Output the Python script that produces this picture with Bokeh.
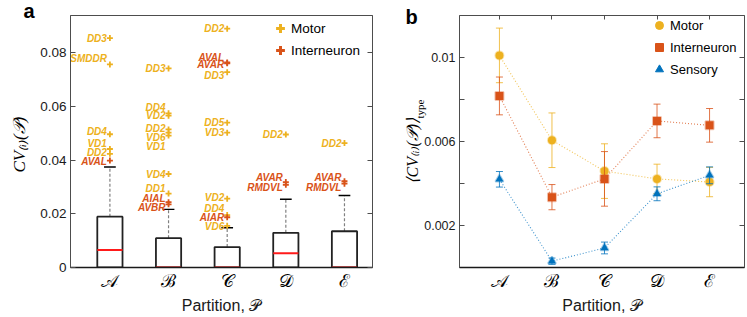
import numpy as np
from bokeh.plotting import figure
from bokeh.models import (ColumnDataSource, Range1d, LinearAxis, FixedTicker, Title,
                          Legend, LegendItem)
from bokeh.layouts import row
from bokeh.embed import file_html
from bokeh.resources import INLINE
from bokeh.core.properties import value

# ---------------- data ----------------
partitions = ["𝒜", "ℬ", "𝒞", "𝒟", "ℰ"]

# panel a: box plot statistics of CV_[i](P)
box_q1 = [0.0, 0.0, 0.0, 0.0, 0.0]
box_median = [0.0065, 0.0, 0.0, 0.0053, 0.0]
box_q3 = [0.0189, 0.0109, 0.0076, 0.0129, 0.0135]
box_whisker_hi = [0.0374, 0.0216, 0.0148, 0.0254, 0.0268]

# panel a: outlier neurons
out_partition = [0, 0, 0, 0, 0, 0,
                 1, 1, 1, 1, 1, 1, 1, 1, 1, 1,
                 2, 2, 2, 2, 2, 2, 2, 2, 2, 2,
                 3, 3, 3,
                 4, 4, 4]
out_name = ["DD3", "SMDDR", "DD4", "VD1", "DD2", "AVAL",
            "DD3", "DD4", "VD2", "DD2", "VD6", "VD1", "VD4", "DD1", "AIAL", "AVBR",
            "DD2", "AVAL", "AVAR", "DD3", "DD5", "VD3", "VD2", "DD4", "AIAR", "VD6",
            "DD2", "AVAR", "RMDVL",
            "DD2", "AVAR", "RMDVL"]
out_value = [0.0854, 0.0756, 0.0496, 0.0441, 0.0423, 0.0398,
             0.0741, 0.0574, 0.0565, 0.0514, 0.0502, 0.0491, 0.0348, 0.0275, 0.0243, 0.0235,
             0.0889, 0.0763, 0.0760, 0.0727, 0.0539, 0.0502, 0.0256, 0.0195, 0.0187, 0.0155,
             0.0495, 0.0318, 0.0308,
             0.0463, 0.0321, 0.0312]
out_label_y = [0.0854, 0.0778, 0.0508, 0.0461, 0.0427, 0.0394,
               0.0741, 0.0595, 0.0564, 0.0517, 0.0485, 0.0452, 0.0348, 0.0293, 0.0258, 0.0225,
               0.0889, 0.0783, 0.0755, 0.0715, 0.0541, 0.0502, 0.0262, 0.0219, 0.0187, 0.0154,
               0.0495, 0.0336, 0.0299,
               0.0463, 0.0334, 0.0299]
out_type = ["Motor", "Motor", "Motor", "Motor", "Motor", "Interneuron",
            "Motor", "Motor", "Motor", "Motor", "Motor", "Motor", "Motor", "Motor", "Interneuron", "Interneuron",
            "Motor", "Interneuron", "Interneuron", "Motor", "Motor", "Motor", "Motor", "Motor", "Interneuron", "Motor",
            "Motor", "Interneuron", "Interneuron",
            "Motor", "Interneuron", "Interneuron"]

# panel b: mean CV per neuron type, with error
motor_mean = [0.0101, 0.00606, 0.00459, 0.00422, 0.00407]
motor_err = [0.0013, 0.0013, 0.0013, 0.0007, 0.0007]
inter_mean = [0.00817, 0.00335, 0.00422, 0.00698, 0.00677]
inter_err = [0.0009, 0.0006, 0.0013, 0.0008, 0.0008]
sensory_mean = [0.0042, 0.0003, 0.00093, 0.00351, 0.00439]
sensory_err = [0.00037, 0.00015, 0.00028, 0.00033, 0.0004]

a_yticks = [0.0, 0.02, 0.04, 0.06, 0.08]
b_yticks = [0.002, 0.004, 0.006, 0.008, 0.01]
b_ytick_labels = {0.002: "0.002", 0.004: "", 0.006: "0.006", 0.008: "", 0.01: "0.01"}

# ---------------- style ----------------
C_MOTOR = "#EDB120"
C_INTER = "#D95319"
C_SENS = "#0072BD"
AXC = "#4d4d4d"
SANS = "Liberation Sans"
SERIF = "Liberation Serif"

xpos = list(range(1, len(partitions) + 1))
x_overrides = {i: s for i, s in zip(xpos, partitions)}


def style_common(p, yticks, yfont):
    p.outline_line_color = AXC
    p.outline_line_width = 1
    p.xgrid.visible = False
    p.ygrid.visible = False
    for ax in p.yaxis:
        ax.ticker = FixedTicker(ticks=yticks)
        ax.minor_tick_line_color = None
        ax.major_tick_in = 5
        ax.major_tick_out = 0
        ax.axis_line_color = AXC
        ax.major_tick_line_color = AXC
        ax.major_label_text_font = SANS
        ax.major_label_text_font_size = yfont
        ax.major_label_text_color = "#1a1a1a"
        ax.major_label_standoff = 4
    for ax in p.xaxis:
        ax.ticker = FixedTicker(ticks=xpos)
        ax.major_label_overrides = x_overrides
        ax.minor_tick_line_color = None
        ax.major_tick_line_color = None
        ax.axis_line_color = "#1a1a1a"
        ax.axis_line_width = 1.5
        ax.major_label_text_font = "DejaVu Serif"
        ax.major_label_text_font_size = "18px"
        ax.major_label_text_line_height = 1.0
        ax.major_label_text_color = "black"
        ax.major_label_standoff = -4
        ax.axis_label = "Partition, 𝒫"
        ax.axis_label_text_font = SANS
        ax.axis_label_text_font_style = "normal"
        ax.axis_label_text_font_size = "16px"
        ax.axis_label_text_line_height = 1.0
        ax.axis_label_text_color = "#1a1a1a"
        ax.axis_label_standoff = 3


def add_blank_axis(p, ticks, side, tick_len, line_color):
    ax = LinearAxis(ticker=FixedTicker(ticks=ticks), major_tick_in=tick_len, major_tick_out=0,
                    major_label_overrides={t: "" for t in ticks}, major_label_standoff=0,
                    minor_tick_line_color=None, axis_line_color=line_color,
                    major_tick_line_color=AXC)
    p.add_layout(ax, side)


# ---------------- panel a ----------------
pa = figure(frame_width=302, frame_height=252, output_backend="svg", toolbar_location=None,
            x_range=Range1d(0.328, 5.478), y_range=Range1d(0, 0.0938),
            min_border_left=68, min_border_right=25, min_border_top=15, min_border_bottom=46)
style_common(pa, a_yticks, "13.5px")
add_blank_axis(pa, a_yticks, "right", 5, AXC)
pa.add_layout(Title(text="a", align="left", vertical_align="bottom", offset=-47, standoff=-12,
                    text_font=SANS, text_font_style="bold", text_font_size="20px",
                    text_color="black"), "above")
# y label (rotated, beside the axis)
pa.add_layout(Title(text="CV₍ᵢ₎(𝒫)", align="left", vertical_align="middle", offset=95,
                    standoff=16, text_font=SERIF, text_font_style="italic",
                    text_font_size="17px", text_color="black"), "left")

box_w = 0.43
cap_w = 0.2
bsrc = ColumnDataSource(dict(x=xpos, q1=box_q1, q3=box_q3, med=box_median, hi=box_whisker_hi,
                             xl=[x - box_w / 2 for x in xpos], xr=[x + box_w / 2 for x in xpos],
                             cl=[x - cap_w / 2 for x in xpos], cr=[x + cap_w / 2 for x in xpos]))
pa.segment(x0="x", y0="q3", x1="x", y1="hi", source=bsrc, line_color="#808080",
           line_dash="3 2", line_width=1.2)
pa.segment(x0="cl", y0="hi", x1="cr", y1="hi", source=bsrc, line_color="black", line_width=1.3)
pa.vbar(x="x", width=box_w, bottom="q1", top="q3", source=bsrc, fill_color="white",
        line_color="#222222", line_width=1.8)
pa.segment(x0="xl", y0="med", x1="xr", y1="med", source=bsrc, line_color="#FF1A1A", line_width=2)

opos = [xpos[i] for i in out_partition]
for typ, col in (("Motor", C_MOTOR), ("Interneuron", C_INTER)):
    idx = [k for k, t in enumerate(out_type) if t == typ]
    src = ColumnDataSource(dict(x=[opos[k] for k in idx], y=[out_value[k] for k in idx],
                                ly=[out_label_y[k] for k in idx], name=[out_name[k] for k in idx]))
    pa.scatter(x="x", y="y", source=src, marker="cross", size=6, line_color=col, line_width=1.8)
    pa.text(x="x", y="ly", text="name", source=src, x_offset=-3, text_align="right",
            text_baseline="middle", text_font=value(SANS), text_font_style="bold italic",
            text_font_size="10px", text_color=col)

nan1 = np.array([np.nan])
lm = pa.scatter(x=nan1, y=nan1, marker="cross", line_color=C_MOTOR, line_width=3)
li = pa.scatter(x=nan1, y=nan1, marker="cross", line_color=C_INTER, line_width=3)
leg_a = Legend(items=[LegendItem(label="Motor", renderers=[lm]),
                      LegendItem(label="Interneuron", renderers=[li])],
               location=(199, 206), glyph_height=22, glyph_width=22, spacing=-4,
               label_standoff=0, padding=0, margin=0, background_fill_alpha=0,
               border_line_alpha=0, label_text_font=SANS, label_text_font_size="13.5px",
               label_text_color="black")
pa.add_layout(leg_a)

# ---------------- panel b ----------------
pb = figure(frame_width=285, frame_height=252, output_backend="svg", toolbar_location=None,
            x_range=Range1d(0.24, 5.665), y_range=Range1d(0, 0.012),
            min_border_left=62, min_border_right=4, min_border_top=14, min_border_bottom=46)
style_common(pb, b_yticks, "12.5px")
add_blank_axis(pb, b_yticks, "right", 5, AXC)
pb.add_layout(Title(text="b", align="left", vertical_align="bottom", offset=-54, standoff=-25,
                    text_font=SANS, text_font_style="bold", text_font_size="20px",
                    text_color="black"), "above")
add_blank_axis(pb, xpos, "above", 4, None)
pb.yaxis[0].major_label_overrides = b_ytick_labels
# y label: main part and subscript "type" (rotated, beside the axis)
pb.add_layout(Title(text="⟨CV₍ᵢ₎(𝒫)⟩", align="left", vertical_align="middle", offset=84,
                    standoff=0, text_font=SERIF, text_font_style="italic",
                    text_font_size="16px", text_color="black"), "left")
pb.add_layout(Title(text="type", align="left", vertical_align="bottom", offset=149,
                    standoff=-47, text_font=SERIF, text_font_size="11px",
                    text_font_style="normal", text_color="black"), "left")

series = [("Motor", motor_mean, motor_err, C_MOTOR, "circle"),
          ("Interneuron", inter_mean, inter_err, C_INTER, "square"),
          ("Sensory", sensory_mean, sensory_err, C_SENS, "triangle")]
leg_items = []
for name, m, e, col, mk in series:
    src = ColumnDataSource(dict(x=xpos, y=m, lo=[a - b for a, b in zip(m, e)],
                                hi=[a + b for a, b in zip(m, e)]))
    pb.line(x="x", y="y", source=src, line_color=col, line_alpha=0.75, line_width=1.1,
            line_dash="1 2")
    pb.segment(x0="x", y0="lo", x1="x", y1="hi", source=src, line_color=col, line_alpha=0.8,
               line_width=1)
    pb.scatter(x="x", y="lo", source=src, marker="dash", size=7, line_color=col,
               line_alpha=0.8, line_width=1)
    pb.scatter(x="x", y="hi", source=src, marker="dash", size=7, line_color=col,
               line_alpha=0.8, line_width=1)
    pb.scatter(x="x", y="y", source=src, marker=mk, size=8, fill_color=col, line_color=col,
               line_alpha=0.35, line_width=2)
    r = pb.scatter(x=nan1, y=nan1, marker=mk, fill_color=col, line_color=col)
    leg_items.append(LegendItem(label=name, renderers=[r]))

leg_b = Legend(items=leg_items, location=(190, 187), glyph_height=22, glyph_width=20,
               spacing=-5, label_standoff=1, padding=0, margin=0, background_fill_alpha=0,
               border_line_alpha=0, label_text_font=SANS, label_text_font_size="13px",
               label_text_color="black")
pb.add_layout(leg_b)

layout = row(pa, pb)
open("out.html", "w").write(file_html(layout, INLINE))
